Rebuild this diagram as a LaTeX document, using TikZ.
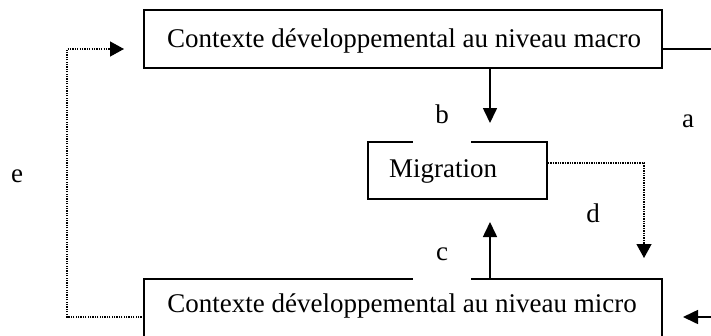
\documentclass[tikz,border=0pt]{standalone}
\usepackage{fontspec}
\setmainfont{Liberation Serif}
\usetikzlibrary{arrows.meta}
\begin{document}
\begin{tikzpicture}[x=1pt,y=-1pt,
  box/.style={draw, line width=1.6pt, inner sep=0pt},
  solidarrow/.style={line width=1.6pt, -{Triangle[width=14pt,length=15pt]}},
  dotarrow/.style={line width=1.3pt, dash pattern=on 1.3pt off 1.1pt, -{Triangle[width=15pt,length=14pt]}},
  dotline/.style={line width=1.3pt, dash pattern=on 1.3pt off 1.1pt},
  lbl/.style={anchor=base, inner sep=0pt},
  gaplbl/.style={anchor=base, fill=white, inner sep=0pt, minimum width=58pt, text height=20pt, text depth=22pt},
  font=\fontsize{27}{30}\selectfont]
\useasboundingbox (0,0) rectangle (711,335);
\clip (0,0) rectangle (711,335);
% boxes
\node[box, minimum width=518pt, minimum height=58pt] (macro) at (403,39) {};
\node[lbl] (macrot) at (404,47) {Contexte développemental au niveau macro};
\node[box, minimum width=179pt, minimum height=57pt] (mig) at (457.5,170.5) {};
\node[lbl] (migt) at (443,177) {Migration};
\node[box, minimum width=518pt, minimum height=70pt] (micro) at (403,314) {};
\node[lbl] (microt) at (402,312) {Contexte développemental au niveau micro};
% coordinates
\coordinate (bend) at (490,123);
\coordinate (cend) at (490,222);
\coordinate (aout) at (715,49);
\coordinate (ain) at (715,317);
\coordinate (atip) at (683,317);
\coordinate (dstart) at (548,163);
\coordinate (dcorner) at (644,163);
\coordinate (dtip) at (644,258);
\coordinate (estart) at (144,317);
\coordinate (ec1) at (67,317);
\coordinate (ec2) at (67,49);
\coordinate (etip) at (124,49);
% connectors
\draw[solidarrow] (macro.south -| bend) -- (bend);
\draw[solidarrow] (micro.north -| cend) -- (cend);
\draw[line width=1.6pt] (macro.east |- aout) -- (aout);
\draw[solidarrow] (ain) -- (atip);
\draw[dotarrow] (dstart) -- (dcorner) -- (dtip);
\draw[dotarrow] (estart) -- (ec1) -- (ec2) -- (etip);
% labels
\node[gaplbl] (b) at (442,123) {b};
\node[gaplbl] (c) at (442,260) {c};
\node[lbl] (a) at (688,127) {a};
\node[lbl] (d) at (593,222) {d};
\node[lbl] (e) at (17,182) {e};
\end{tikzpicture}
\end{document}
